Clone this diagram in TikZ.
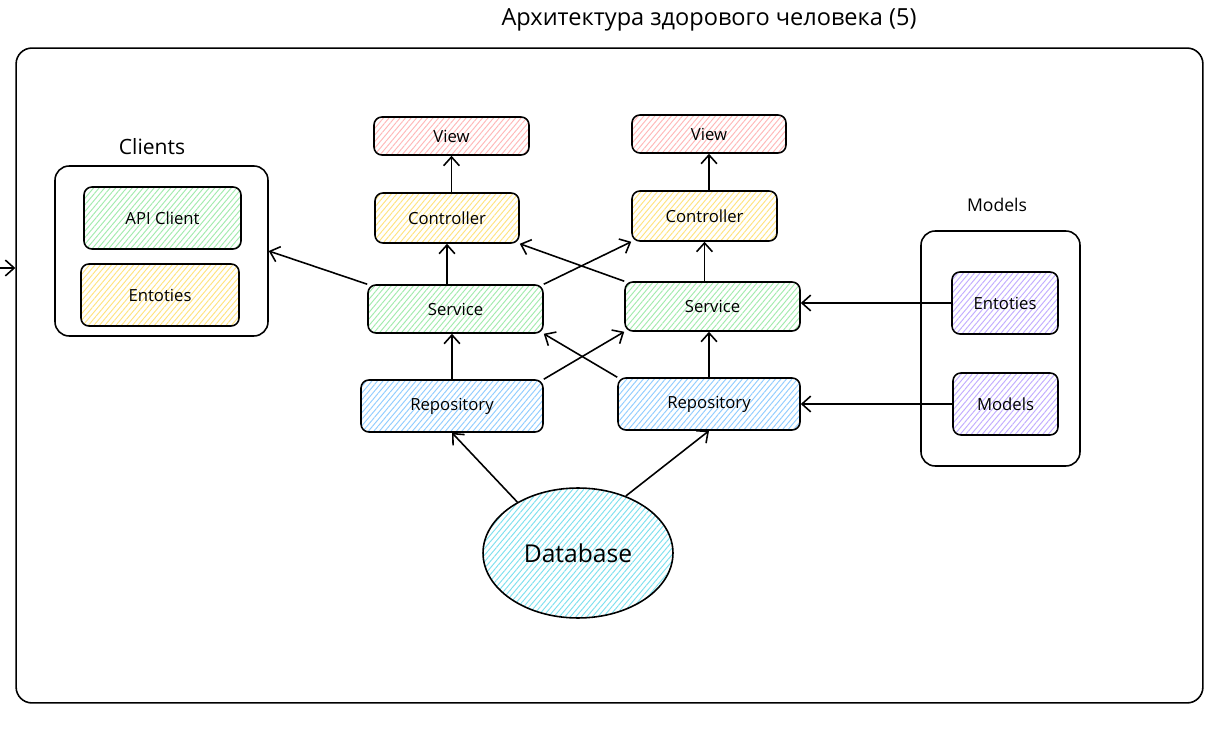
\documentclass[tikz,border=0pt]{standalone}
\usepackage{fontspec}
\setmainfont{Open Sans}
\usetikzlibrary{arrows.meta,patterns.meta,shapes.geometric}

\definecolor{viewred}{HTML}{FFB8B8}
\definecolor{ctrlyellow}{HTML}{FFE380}
\definecolor{servgreen}{HTML}{A3EBAE}
\definecolor{repoblue}{HTML}{92CDFF}
\definecolor{dbcyan}{HTML}{7FE0EE}
\definecolor{modviolet}{HTML}{C2ADFF}

\begin{document}
\begin{tikzpicture}[x=0.02cm, y=-0.02cm]
        \tikzset{box/.style={draw, line width=0.9pt, rounded corners=4.5pt, inner sep=0pt,
                             font=\fontsize{9.5}{11}\selectfont},
                 hatch/.style={pattern={Lines[angle=50, distance=2.4pt, line width=0.55pt]},
                               pattern color=#1},
                 group/.style={draw, line width=0.9pt, rounded corners=8pt},
                 link/.style={line width=0.9pt, -{Straight Barb[length=5pt, width=9pt]}}}

        \useasboundingbox (0,0) rectangle (1224,739);

        \node (title) at (709,20) {\fontsize{13.4}{15}\selectfont Архитектура здорового человека (5)};
        \node[group, rounded corners=9pt, minimum width=23.74cm, minimum height=13.1cm] (frame) at (609.5,375.5) {};
        \coordinate (inlet) at (0,268);

        % clients
        \node (clientslbl) at (152,147) {\fontsize{12}{14}\selectfont Clients};
        \node[group, minimum width=4.26cm, minimum height=3.4cm] (clients) at (161.5,251) {};
        \node[box, hatch=servgreen, minimum width=3.14cm, minimum height=1.24cm] (apiclient) at (162.5,218) {API Client};
        \node[box, hatch=ctrlyellow, minimum width=3.16cm, minimum height=1.24cm] (entleft) at (160,295) {Entoties};

        % left stack
        \node[box, hatch=viewred,    minimum width=3.1cm,  minimum height=0.76cm] (view1) at (451.5,136) {View};
        \node[box, hatch=ctrlyellow, minimum width=2.88cm, minimum height=1.0cm]  (ctrl1) at (447,218) {Controller};
        \node[box, hatch=servgreen,  minimum width=3.5cm,  minimum height=0.96cm] (serv1) at (455.5,309) {Service};
        \node[box, hatch=repoblue,   minimum width=3.64cm, minimum height=1.04cm] (repo1) at (452,406) {Repository};

        % right stack
        \node[box, hatch=viewred,    minimum width=3.08cm, minimum height=0.76cm] (view2) at (709,134) {View};
        \node[box, hatch=ctrlyellow, minimum width=2.9cm,  minimum height=1.0cm]  (ctrl2) at (704.5,216) {Controller};
        \node[box, hatch=servgreen,  minimum width=3.5cm,  minimum height=0.98cm] (serv2) at (712.5,306.5) {Service};
        \node[box, hatch=repoblue,   minimum width=3.64cm, minimum height=1.04cm] (repo2) at (709,404) {Repository};

        \node[ellipse, draw, line width=0.9pt, hatch=dbcyan, minimum width=3.8cm, minimum height=2.6cm,
              font=\fontsize{14}{16}\selectfont] (db) at (578,553) {Database};

        % models
        \node (modelslbl) at (997,205) {\fontsize{10}{12}\selectfont Models};
        \node[group, minimum width=3.18cm, minimum height=4.7cm] (models) at (1000.5,348.5) {};
        \node[box, hatch=modviolet, minimum width=2.12cm, minimum height=1.24cm] (entright) at (1005,303) {Entoties};
        \node[box, hatch=modviolet, minimum width=2.1cm,  minimum height=1.24cm] (modelsin) at (1005.5,404) {Models};

        \draw[link] (inlet) -- (inlet -| frame.west);

        \draw[link] (ctrl1.north -| view1.south) -- (view1.south);
        \draw[link] (ctrl2.north -| view2.south) -- (view2.south);
        \draw[link] (serv1.north -| ctrl1.south) -- (ctrl1.south);
        \draw[link] (serv2.north -| ctrl2.south) -- (ctrl2.south);
        \draw[link] (repo1.north) -- (serv1.south -| repo1.north);
        \draw[link] (repo2.north) -- (serv2.south -| repo2.north);

        \draw[link] (serv1.north east) -- (ctrl2.south west);
        \draw[link] (serv2.north west) -- (ctrl1.south east);
        \draw[link] (repo1.north east) -- (serv2.south west);
        \draw[link] (repo2.north west) -- (serv1.south east);

        \draw[link] (db.140) -- (repo1.south);
        \draw[link] (db.50) -- (repo2.south);

        \draw[link] (serv1.north west) -- (clients.east);
        \draw[link] (entright.west) -- (entright.west -| serv2.east);
        \draw[link] (modelsin.west) -- (modelsin.west -| repo2.east);

\end{tikzpicture}
\end{document}
